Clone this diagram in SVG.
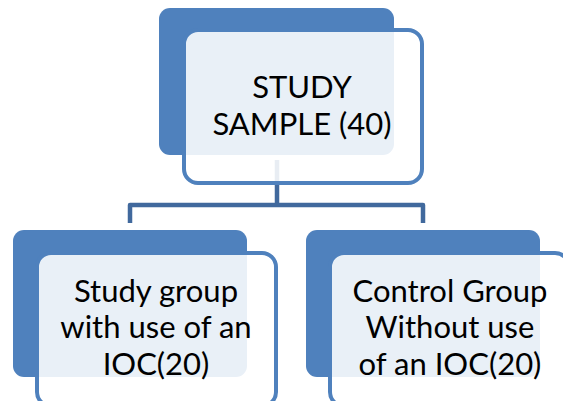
<svg xmlns="http://www.w3.org/2000/svg" width="563" height="401" viewBox="0 0 563 401">
  <style>
    .back { fill: #4f81bd; }
    .front { fill: #ffffff; fill-opacity: 0.88; stroke: #4f81bd; stroke-width: 4; }
    .link { fill: none; stroke: #41699d; stroke-width: 4.5; stroke-linejoin: round; }
    .label { font-family: Lato, "Liberation Sans", Arial, sans-serif; font-size: 31px; fill: #000000; text-anchor: middle; }
  </style>
  <rect width="563" height="401" fill="#ffffff"/>

  <!-- tree connectors: root stem, cross bar, child drops -->
  <g id="connectors">
    <path class="link" d="M277,160 V205 M130,223 V205 H423 V223"/>
  </g>

  <g id="root">
    <rect class="back" x="159" y="8" width="235" height="147" rx="11"/>
    <rect class="front" x="184" y="30" width="238" height="153" rx="14"/>
    <text class="label" x="302" y="98">STUDY</text>
    <text class="label" x="302" y="135">SAMPLE (40)</text>
  </g>

  <g id="study-group">
    <rect class="back" x="13" y="230" width="234" height="147" rx="11"/>
    <rect class="front" x="37" y="253" width="239" height="153" rx="14"/>
    <text class="label" x="156" y="302">Study group</text>
    <text class="label" x="156" y="338">with use of an</text>
    <text class="label" x="156" y="375">IOC(20)</text>
  </g>

  <g id="control-group">
    <rect class="back" x="306" y="230" width="234" height="147" rx="11"/>
    <rect class="front" x="330" y="253" width="239" height="153" rx="14"/>
    <text class="label" x="450" y="302">Control Group</text>
    <text class="label" x="450" y="338">Without use</text>
    <text class="label" x="450" y="375">of an IOC(20)</text>
  </g>
</svg>
